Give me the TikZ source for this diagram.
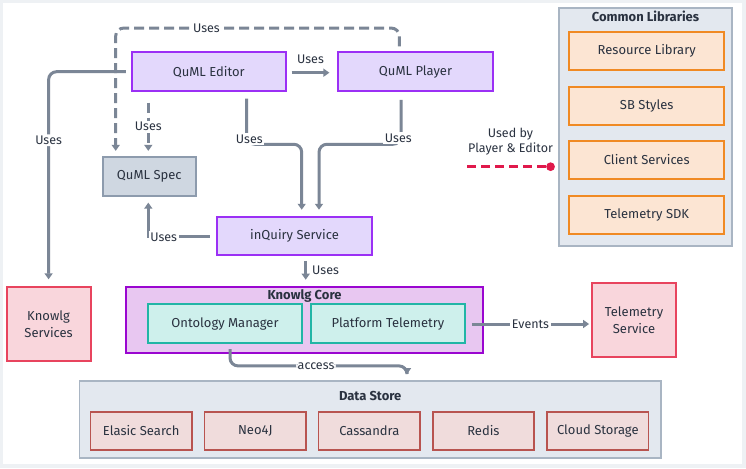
\documentclass[tikz,border=0pt]{standalone}
\usepackage{fontspec}
\setmainfont{Fira Sans}
\usetikzlibrary{arrows.meta,calc}
\definecolor{bgc}{HTML}{EEF1F4}
\definecolor{txt}{HTML}{2A3240}
\definecolor{ln}{HTML}{7B8696}
\definecolor{pfill}{HTML}{E3D8FC}
\definecolor{pdraw}{HTML}{9B30F5}
\definecolor{sfill}{HTML}{CFD7E1}
\definecolor{sdraw}{HTML}{8D9BAD}
\definecolor{cfill}{HTML}{E3E8EF}
\definecolor{cdraw}{HTML}{A9B5C3}
\definecolor{ofill}{HTML}{FCE5D3}
\definecolor{odraw}{HTML}{F08A24}
\definecolor{rfill}{HTML}{F9D6DC}
\definecolor{rdraw}{HTML}{E8445E}
\definecolor{kfill}{HTML}{E8C7F1}
\definecolor{kdraw}{HTML}{9A06D0}
\definecolor{tfill}{HTML}{CEF0EC}
\definecolor{tdraw}{HTML}{22B5A6}
\definecolor{dfill}{HTML}{F0DCDC}
\definecolor{ddraw}{HTML}{B85450}
\definecolor{redln}{HTML}{E0194B}
\tikzset{
  basebox/.style={rectangle, draw, line width=1.8pt, text=txt, align=center,
    font=\fontsize{13}{15}\selectfont, inner sep=0pt},
  pbox/.style={basebox, fill=pfill, draw=pdraw, minimum width=154pt, minimum height=38.7pt},
  specbox/.style={basebox, fill=sfill, draw=sdraw, minimum width=93.3pt, minimum height=38.7pt},
  contbox/.style={rectangle, draw=cdraw, fill=cfill, line width=1.8pt},
  libbox/.style={basebox, fill=ofill, draw=odraw, minimum width=154.7pt, minimum height=38.3pt},
  redbox/.style={basebox, fill=rfill, draw=rdraw, minimum width=84pt, minimum height=74pt},
  corebox/.style={rectangle, draw=kdraw, fill=kfill, line width=2pt},
  tealbox/.style={basebox, fill=tfill, draw=tdraw, minimum width=154pt, minimum height=39pt},
  dbox/.style={basebox, fill=dfill, draw=ddraw, minimum width=101.5pt, minimum height=38.6pt},
  ttl/.style={font=\bfseries\fontsize{13}{15}\selectfont, text=txt, inner sep=0pt},
  conn/.style={draw=ln, line width=3pt, -{Triangle[length=6pt,width=8pt]}},
  dsh/.style={dash pattern=on 10pt off 5pt},
  lbl/.style={fill=white, text=txt, inner sep=1.5pt, font=\fontsize{12.5}{14}\selectfont},
  plainlbl/.style={text=txt, inner sep=0pt, font=\fontsize{12.5}{14}\selectfont, align=center},
}
\begin{document}
\begin{tikzpicture}[x=1pt,y=-1pt]
\fill[bgc] (0,0) rectangle (746,468);
\fill[white] (2.7,3.3) rectangle (741.7,464.3);
\useasboundingbox (0,0) rectangle (746,468);

% containers
\node[contbox, minimum width=173.6pt, minimum height=237.7pt] (libs) at (645.5,127.2) {};
\node[ttl] (libsttl) at (645.5,16.7) {Common Libraries};
\node[libbox] (reslib) at (646.7,50.8) {Resource Library};
\node[libbox] (sbst) at (646.7,105.8) {SB Styles};
\node[libbox] (clsv) at (646.7,159.8) {Client Services};
\node[libbox] (tsdk) at (646.7,214.8) {Telemetry SDK};

\node[corebox, minimum width=357pt, minimum height=66pt] (core) at (304.5,319.7) {};
\node[ttl] (corettl) at (304.5,296) {Knowlg Core};
\node[tealbox] (onto) at (225,323.8) {Ontology Manager};
\node[tealbox] (plat) at (388,323.8) {Platform Telemetry};

\node[contbox, minimum width=581.5pt, minimum height=77.6pt] (ds) at (370.2,419.5) {};
\node[ttl] (dsttl) at (370.2,395.7) {Data Store};
\node[dbox] (es) at (141.2,431) {Elasic Search};
\node[dbox] (neo) at (255.3,431) {Neo4J};
\node[dbox] (cas) at (369.3,431) {Cassandra};
\node[dbox] (red) at (483.4,431) {Redis};
\node[dbox] (cloud) at (597.8,431) {Cloud Storage};

% main boxes
\node[pbox] (editor) at (208.7,71.7) {QuML Editor};
\node[pbox, minimum width=154.4pt] (player) at (415.5,71.7) {QuML Player};
\node[specbox] (spec) at (149.3,176.7) {QuML Spec};
\node[pbox, minimum width=154.4pt, minimum height=38.3pt] (inq) at (294.5,235.8) {inQuiry Service};
\node[redbox] (ksvc) at (48.6,323.7) {Knowlg\\[2pt]Services};
\node[redbox] (tsvc) at (634,319.7) {Telemetry\\[2pt]Service};

% connectors
\draw[conn, dsh, rounded corners=8pt] ($(player.north)+(-16.2,-5)$) -- ++(0,-18.4)
   -| node[lbl, pos=0.34] {Uses} ($(spec.north)+(-33.6,-5.6)$);
\draw[conn] ($(editor.east)+(5,1)$) -- node[plainlbl, above=8pt] {Uses} ($(player.west)+(-8,1)$);
\draw[conn, rounded corners=8pt] ($(editor.west)+(-5,0)$)
   -| node[lbl, pos=0.665] {Uses} ($(ksvc.north)+(0,-6.5)$);
\draw[conn, dsh] ($(editor.south)+(-60.4,10.7)$) -- node[lbl] {Uses} ($(spec.north)+(-1,-5.6)$);
\draw[conn, rounded corners=8pt] ($(editor.south)+(38,6.7)$) -- ++(0,45.6)
   -| ($(inq.north)+(7.2,-6)$);
\draw[conn, rounded corners=8pt] ($(player.south)+(-14.5,8)$) -- ++(0,44.3)
   -| ($(inq.north)+(24.5,-6)$);
\node[lbl] (u1) at ($(editor.south)+(40.6,47.3)$) {Uses};
\node[lbl] (u2) at ($(player.south)+(-17.2,46.3)$) {Uses};
\draw[conn] ($(inq.west)+(-6.6,1)$) -| node[lbl, pos=0.375] {Uses} ($(spec.south)+(-1,5.7)$);
\draw[conn] ($(inq.south)+(11.2,5)$) -- node[plainlbl, right=5pt] {Uses} ($(core.north)+(1.2,-6)$);
\draw[conn] ($(plat.east)+(6,0.2)$) -- node[lbl] {Events} ($(tsvc.west)+(-2,4.3)$);
\draw[conn, rounded corners=8pt] ($(onto.south)+(5,5)$) -- ++(0,16.7)
   -| node[lbl, pos=0.243] {access} ($(ds.north)+(36.8,-5.7)$);

% legend
\coordinate (redstart) at (467.3,166.7);
\draw[draw=redln, line width=3pt, dash pattern=on 9pt off 5pt, -{Circle[length=8.5pt]}]
   (redstart) -- ($(libs.west)+(-3,39.5)$);
\node[plainlbl] (usedby) at (510.5,141.7) {Used by\\[1pt]Player \& Editor};
\end{tikzpicture}
\end{document}
